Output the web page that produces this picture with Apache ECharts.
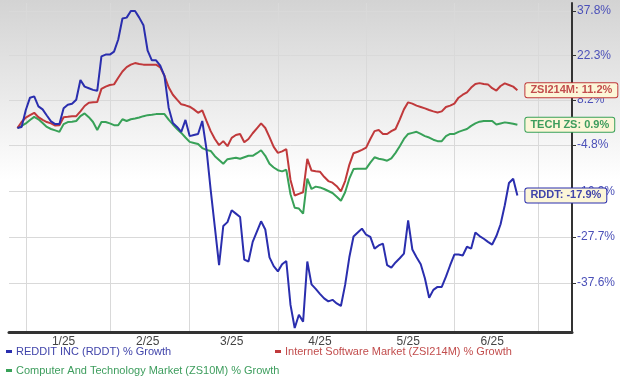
<!DOCTYPE html>
<html>
<head>
<meta charset="utf-8">
<script src="https://cdn.jsdelivr.net/npm/echarts@6/dist/echarts.min.js"></script>
<style>
  html, body { margin: 0; padding: 0; }
  body { background: linear-gradient(to bottom, #d3d3d3 0px, #ebebeb 100px, #ffffff 180px); }
  #chart { width: 620px; height: 378px; }
</style>
</head>
<body>
<div id="chart"></div>
<script>
// trading days shown on the x axis
var tradingDays = [
  ['2024-12', [26, 27, 30, 31]],
  ['2025-01', [2, 3, 6, 7, 8, 10, 13, 14, 15, 16, 17, 21, 22, 23, 24, 27, 28, 29, 30, 31]],
  ['2025-02', [3, 4, 5, 6, 7, 10, 11, 12, 13, 14, 18, 19, 20, 21, 24, 25, 26, 27, 28]],
  ['2025-03', [3, 4, 5, 6, 7, 10, 11, 12, 13, 14, 17, 18, 19, 20, 21, 24, 25, 26, 27, 28, 31]],
  ['2025-04', [1, 2, 3, 4, 7, 8, 9, 10, 11, 14, 15, 16, 17, 21, 22, 23, 24, 25, 28, 29, 30]],
  ['2025-05', [1, 2, 5, 6, 7, 8, 9, 12, 13, 14, 15, 16, 19, 20, 21, 22, 23, 27, 28, 29, 30]],
  ['2025-06', [2, 3, 4, 5, 6, 9, 10, 11, 12, 13, 16, 17, 18, 20, 23, 24, 25, 26, 27, 30]],
  ['2025-07', [1, 2, 3, 7, 8, 9, 10, 11, 14]]
];
var seriesStart = '2024-12-30';

// % growth, one value per trading day from seriesStart
var rddt = [
  0, 0.3, 5.2, 8.9, 9.3, 6.3, 5.4, 3.6, 1.9, 1.1,
  1.1, 5.7, 6.8, 7.1, 8.3, 14.4, 12.3, 11.8, 11.3, 11.0,
  22.0, 22.6, 22.6, 23.6, 27.7, 35.1, 35.4, 37.8, 37.8, 35.4,
  32.7, 23.9, 20.7, 20.7, 19.0, 15.7, 5.9, 1.4, 0.3, -1.1,
  2.3, -2.3, -2.0, -1.7, 2.0, -5.9, -16.5, -25.5, -33.9, -25.2,
  -24.3, -21.5, -22.3, -23.1, -32.7, -33.1, -28.8, -26.5, -24.1, -26.0,
  -32.2, -34.1, -35.2, -33.7, -33.0, -42.0, -46.4, -43.9, -45.2, -33.1,
  -37.9, -38.8, -39.8, -40.7, -41.3, -41.0, -41.7, -42.2, -38.0, -32.2,
  -27.6, -26.7, -25.8, -27.2, -27.7, -30.3, -29.6, -29.2, -33.9, -34.4,
  -33.3, -32.4, -31.4, -23.9, -30.5, -32.2, -33.7, -36.7, -40.6, -39.0,
  -38.4, -38.4, -36.3, -33.9, -31.6, -31.6, -31.8, -29.9, -30.3, -26.7,
  -27.5, -28.1, -28.8, -29.4, -27.5, -24.8, -20.3, -14.8, -13.7, -17.9
];
var zsi214m = [
  0, 1.7, 3.0, 3.7, 4.4, 3.1, 2.3, 1.7, 1.3, 0.7,
  0.8, 3.1, 3.2, 3.4, 3.4, 4.8, 6.4, 7.4, 7.5, 7.6,
  11.6, 12.3, 12.8, 13.0, 15.1, 17.1, 18.5, 19.3, 19.8, 19.5,
  19.3, 19.3, 19.3, 19.3, 18.4, 15.7, 12.1, 9.8, 8.3, 6.9,
  6.6, 6.2, 5.4, 4.4, 5.1, 2.0, -0.9, -3.1, -4.8, -3.7,
  -5.1, -2.8, -2.0, -1.7, -4.0, -3.1, -1.5, -0.1, 1.3, 0.0,
  -2.6, -5.3, -6.9, -6.5, -5.9, -14.0, -17.9, -17.5, -17.1, -8.5,
  -11.6, -11.8, -11.9, -13.2, -14.3, -14.7, -15.6, -16.9, -14.3, -10.1,
  -7.0, -6.6, -6.1, -5.5, -3.1, -0.9, -0.6, -1.7, -1.7, -0.9,
  -0.3, 2.4, 5.4, 7.5, 7.1, 6.5, 6.1, 5.7, 5.2, 4.8,
  4.5, 4.8, 6.1, 6.5, 7.1, 8.9, 9.8, 10.5, 12.0, 13.1,
  13.4, 13.1, 13.0, 11.8, 11.1, 12.5, 13.3, 12.8, 12.3, 11.2
];
var zs10m = [
  0, 0.6, 1.3, 2.3, 3.2, 2.5, 1.4, 0.3, -0.3, -0.7,
  -1.1, 1.1, 1.7, 1.8, 2.0, 3.4, 4.2, 3.1, 1.7, -0.6,
  1.7, 1.7, 1.3, 0.8, 0.8, 2.5, 2.0, 2.5, 2.7, 3.0,
  3.4, 3.7, 3.8, 4.0, 4.0, 4.0, 2.4, 1.0, -0.3, -1.4,
  -2.7, -3.9, -4.2, -4.5, -5.6, -6.1, -6.4, -7.8, -8.8, -9.8,
  -8.6, -8.4, -8.2, -8.5, -8.1, -7.7, -7.7, -7.0, -6.2, -7.7,
  -9.8, -10.8, -11.5, -11.8, -11.4, -17.6, -20.9, -21.1, -22.3, -13.7,
  -16.3, -15.7, -15.9, -16.3, -16.8, -17.3, -18.2, -19.2, -17.1, -13.7,
  -11.2, -11.1, -11.1, -11.1, -9.5, -8.1, -8.5, -8.7, -9.0, -8.4,
  -6.9, -5.1, -3.1, -1.7, -1.4, -1.1, -1.7, -2.3, -2.7, -3.3,
  -3.7, -3.7, -2.3, -1.7, -1.7, -1.1, -0.7, -0.3, 0.6, 1.3,
  1.8, 2.0, 2.0, 2.0, 1.0, 1.3, 1.6, 1.4, 1.2, 0.9
];
var yTicks = [37.8, 22.3, 8.2, -4.8, -16.9, -27.7, -37.6];

var names = ['REDDIT INC (RDDT) % Growth', 'Internet Software Market (ZSI214M) % Growth', 'Computer And Technology Market (ZS10M) % Growth'];
var tags = ['RDDT', 'ZSI214M', 'TECH ZS'];
var lineColors = ['#2a2eae', '#c0393b', '#38a158'];
var textColors = ['#4044aa', '#c24d4d', '#3d9d5d'];

// the source axis is log spaced around this base, so % values are shifted onto it
var LOG_BASE = 134;

var dates = [];
tradingDays.forEach(function (m) {
  m[1].forEach(function (d) { dates.push(m[0] + '-' + (d < 10 ? '0' + d : d)); });
});

// month boundaries -> grid lines, month middle -> label
var monthFirst = {}, monthLast = {};
dates.forEach(function (d, i) {
  var m = d.slice(0, 7);
  if (!(m in monthFirst)) monthFirst[m] = i;
  monthLast[m] = i;
});
var gridIdx = {}, labelIdx = {};
Object.keys(monthFirst).forEach(function (m) {
  if (monthFirst[m] > 0) gridIdx[monthFirst[m]] = true;
  if (monthLast[m] - monthFirst[m] >= 14) labelIdx[Math.floor((monthFirst[m] + monthLast[m]) / 2)] = true;
});

function toPoints(vals) {
  var s = dates.indexOf(seriesStart);
  return vals.map(function (v, k) { return [dates[s + k], LOG_BASE + v]; });
}

function makeSeries(i, vals) {
  var last = vals[vals.length - 1];
  return {
    name: names[i],
    type: 'line',
    data: toPoints(vals),
    showSymbol: false,
    symbol: 'none',
    color: lineColors[i],
    lineStyle: { width: 2, color: lineColors[i] },
    endLabel: {
      show: true,
      formatter: function () { return tags[i] + ': ' + last.toFixed(1) + '%'; },
      color: textColors[i],
      fontFamily: 'Liberation Sans, Arial, sans-serif',
      fontWeight: 'bold',
      fontSize: 11,
      backgroundColor: '#fcf6d8',
      borderColor: lineColors[i],
      borderWidth: 1,
      borderRadius: 2,
      padding: [2, 5, 1, 5],
      distance: 8
    }
  };
}

function makeLegend(i, left, top) {
  return {
    data: [names[i]],
    left: left,
    top: top,
    padding: 0,
    icon: 'rect',
    itemWidth: 6,
    itemHeight: 3,
    itemGap: 4,
    selectedMode: false,
    textStyle: { color: textColors[i], fontSize: 11, fontFamily: 'Liberation Sans, Arial, sans-serif', padding: [0, 0, 0, -1] }
  };
}

var myChart = echarts.init(document.getElementById('chart'));
var option = {
  animation: false,
  grid: { left: 9, right: 48, top: 3, bottom: 46 },
  legend: [makeLegend(0, 6, 346), makeLegend(1, 275, 346), makeLegend(2, 6, 365)],
  xAxis: {
    type: 'category',
    data: dates,
    boundaryGap: false,
    axisLine: { lineStyle: { color: '#333', width: 3 } },
    axisTick: { show: false },
    axisLabel: {
      interval: function (idx) { return !!labelIdx[idx]; },
      formatter: function (v) { return parseInt(v.slice(5, 7), 10) + '/' + v.slice(2, 4); },
      color: '#444',
      fontSize: 12,
      margin: 4,
      fontFamily: 'Liberation Sans, Arial, sans-serif'
    },
    splitLine: {
      show: true,
      interval: function (idx) { return !!gridIdx[idx]; },
      lineStyle: { color: '#d9d9d9', width: 1 }
    }
  },
  yAxis: {
    type: 'log',
    position: 'right',
    min: 86.86,
    max: 174.75,
    axisLine: { show: true, lineStyle: { color: '#333', width: 2 } },
    axisTick: {
      show: true,
      length: 4,
      lineStyle: { color: '#333' },
      customValues: yTicks.map(function (t) { return LOG_BASE + t; })
    },
    axisLabel: {
      customValues: yTicks.map(function (t) { return LOG_BASE + t; }),
      formatter: function (v) { return (v - LOG_BASE).toFixed(1) + '%'; },
      color: '#4b50b8',
      fontSize: 12,
      margin: 5,
      fontFamily: 'Liberation Sans, Arial, sans-serif'
    },
    splitLine: { show: true, lineStyle: { color: '#d9d9d9', width: 1 } }
  },
  series: [makeSeries(2, zs10m), makeSeries(1, zsi214m), makeSeries(0, rddt)]
};
myChart.setOption(option);
window.addEventListener('resize', function () {
  myChart.resize();
});
</script>
</body>
</html>
